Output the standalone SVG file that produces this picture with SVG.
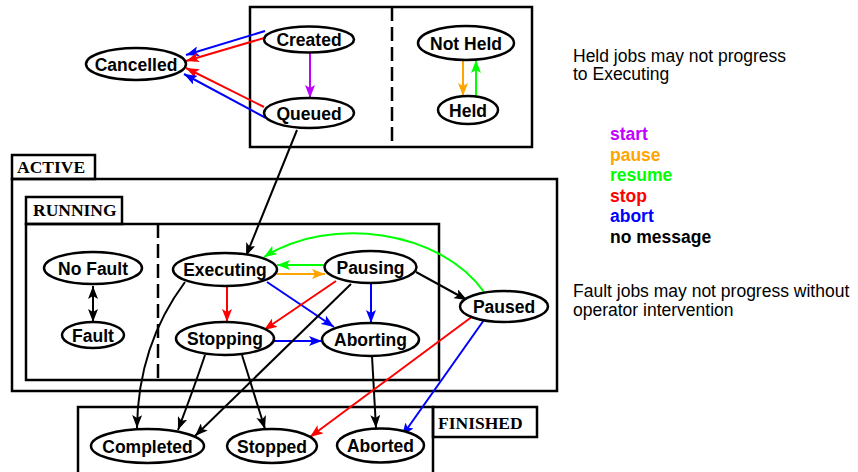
<svg xmlns="http://www.w3.org/2000/svg" width="858" height="472" viewBox="0 0 858 472">
<style>
.box{fill:none;stroke:#000;stroke-width:2.5}
.node ellipse{fill:#fff;stroke:#000;stroke-width:2.5}
.node text{font-family:"Liberation Sans",Arial,sans-serif;font-weight:bold;font-size:17.5px;text-anchor:middle;fill:#000}
.tab{font-family:"Liberation Serif","Times New Roman",serif;font-weight:bold;font-size:17.5px;fill:#000}
.note{font-family:"Liberation Sans",Arial,sans-serif;font-size:17.5px;fill:#000}
.leg{font-family:"Liberation Sans",Arial,sans-serif;font-size:17.5px;font-weight:bold}
.c{fill:none;stroke-width:2}
.k{stroke:#000;marker-end:url(#ak)}
.r{stroke:#f00;marker-end:url(#ar)}
.b{stroke:#00f;marker-end:url(#ab)}
.g{stroke:#0f0;marker-end:url(#ag)}
.o{stroke:#ffa500;marker-end:url(#ao)}
.p{stroke:#c000ff;marker-end:url(#ap)}
</style>
<defs>
<marker id="ak" markerUnits="userSpaceOnUse" markerWidth="14" markerHeight="10" refX="13" refY="5" orient="auto-start-reverse"><path d="M0,0 L13,5 L0,10 L3,5 z" fill="#000"/></marker>
<marker id="ar" markerUnits="userSpaceOnUse" markerWidth="14" markerHeight="10" refX="13" refY="5" orient="auto"><path d="M0,0 L13,5 L0,10 L3,5 z" fill="#f00"/></marker>
<marker id="ab" markerUnits="userSpaceOnUse" markerWidth="14" markerHeight="10" refX="13" refY="5" orient="auto"><path d="M0,0 L13,5 L0,10 L3,5 z" fill="#00f"/></marker>
<marker id="ag" markerUnits="userSpaceOnUse" markerWidth="14" markerHeight="10" refX="13" refY="5" orient="auto"><path d="M0,0 L13,5 L0,10 L3,5 z" fill="#0f0"/></marker>
<marker id="ao" markerUnits="userSpaceOnUse" markerWidth="14" markerHeight="10" refX="13" refY="5" orient="auto"><path d="M0,0 L13,5 L0,10 L3,5 z" fill="#ffa500"/></marker>
<marker id="ap" markerUnits="userSpaceOnUse" markerWidth="14" markerHeight="10" refX="13" refY="5" orient="auto"><path d="M0,0 L13,5 L0,10 L3,5 z" fill="#c000ff"/></marker>
</defs>
<rect width="858" height="472" fill="#fff"/>
<g id="containers">
<rect class="box" x="250" y="7" width="282" height="140"/>
<line x1="392" y1="7" x2="392" y2="147" stroke="#000" stroke-width="2.5" stroke-dasharray="14 6"/>
<rect class="box" x="12" y="155" width="83" height="24"/>
<text class="tab" x="17" y="173">ACTIVE</text>
<rect class="box" x="12" y="179" width="545" height="212"/>
<rect class="box" x="26" y="197" width="96" height="27"/>
<text class="tab" x="33" y="216">RUNNING</text>
<rect class="box" x="26" y="224" width="413" height="156"/>
<line x1="158" y1="224" x2="158" y2="380" stroke="#000" stroke-width="2.5" stroke-dasharray="14 6"/>
<rect class="box" x="78" y="407" width="355" height="80"/>
<rect class="box" x="433" y="407" width="104" height="30"/>
<text class="tab" x="438" y="429">FINISHED</text>
</g>
<g id="connectors">
<line class="c b" x1="265" y1="31" x2="186" y2="55"/>
<line class="c r" x1="264" y1="38" x2="186" y2="61"/>
<line class="c r" x1="264" y1="107" x2="186" y2="68"/>
<line class="c b" x1="266" y1="118" x2="184" y2="74"/>
<line class="c p" x1="310" y1="53" x2="310" y2="98"/>
<line class="c o" x1="463" y1="60" x2="463" y2="96"/>
<line class="c g" x1="476" y1="96" x2="476" y2="60"/>
<line class="c k" x1="297" y1="130" x2="246" y2="256"/>
<line class="c k" x1="93" y1="286" x2="93" y2="322" marker-start="url(#ak)"/>
<line class="c o" x1="277" y1="274" x2="325" y2="274"/>
<line class="c g" x1="326" y1="265" x2="277" y2="265"/>
<path class="c g" d="M484,292 C440,230 330,215 264,257"/>
<line class="c k" x1="416" y1="272" x2="467" y2="300"/>
<line class="c r" x1="227" y1="287" x2="227" y2="322"/>
<line class="c b" x1="267" y1="282" x2="334" y2="327"/>
<line class="c r" x1="336" y1="281" x2="264" y2="330"/>
<line class="c b" x1="371" y1="284" x2="371" y2="323"/>
<line class="c b" x1="274" y1="341" x2="322" y2="341"/>
<line class="c k" x1="351" y1="284" x2="195" y2="436"/>
<path class="c k" d="M185,282 Q138,345 137,428"/>
<path class="c k" d="M205,355 Q195,385 178,430"/>
<line class="c k" x1="242" y1="355" x2="265" y2="429"/>
<path class="c k" d="M372,356 Q374,390 376,428"/>
<line class="c r" x1="473" y1="316" x2="310" y2="437"/>
<line class="c b" x1="484" y1="320" x2="402" y2="436"/>
</g>
<g id="n-cancelled" class="node"><ellipse cx="136" cy="64" rx="50" ry="16"/><text x="136" y="70.5">Cancelled</text></g>
<g id="n-created" class="node"><ellipse cx="309" cy="39.5" rx="45" ry="13"/><text x="309" y="46">Created</text></g>
<g id="n-queued" class="node"><ellipse cx="309" cy="113" rx="45" ry="15"/><text x="309" y="119.5">Queued</text></g>
<g id="n-notheld" class="node"><ellipse cx="466" cy="43" rx="48" ry="17"/><text x="466" y="49.5">Not Held</text></g>
<g id="n-held" class="node"><ellipse cx="468" cy="110" rx="30" ry="14"/><text x="468" y="116.5">Held</text></g>
<g id="n-nofault" class="node"><ellipse cx="93" cy="268" rx="49" ry="16"/><text x="93" y="274.5">No Fault</text></g>
<g id="n-fault" class="node"><ellipse cx="93" cy="335" rx="31" ry="13"/><text x="93" y="341.5">Fault</text></g>
<g id="n-executing" class="node"><ellipse cx="225" cy="269.5" rx="52" ry="16.5"/><text x="225" y="276">Executing</text></g>
<g id="n-pausing" class="node"><ellipse cx="370.5" cy="267" rx="46" ry="16"/><text x="370.5" y="273.5">Pausing</text></g>
<g id="n-stopping" class="node"><ellipse cx="225" cy="338.5" rx="49" ry="16.5"/><text x="225" y="345">Stopping</text></g>
<g id="n-aborting" class="node"><ellipse cx="370.5" cy="339.5" rx="48.5" ry="16.5"/><text x="370.5" y="346">Aborting</text></g>
<g id="n-paused" class="node"><ellipse cx="504" cy="306.5" rx="44" ry="15.5"/><text x="504" y="313">Paused</text></g>
<g id="n-completed" class="node"><ellipse cx="147.5" cy="446" rx="56.5" ry="17"/><text x="147.5" y="452.5">Completed</text></g>
<g id="n-stopped" class="node"><ellipse cx="272" cy="446" rx="45" ry="17"/><text x="272" y="452.5">Stopped</text></g>
<g id="n-aborted" class="node"><ellipse cx="380.5" cy="445.5" rx="43.5" ry="17"/><text x="380.5" y="452">Aborted</text></g>
<g id="notes">
<text class="note" x="573" y="61.5">Held jobs may not progress</text>
<text class="note" x="573" y="80">to Executing</text>
<text class="leg" x="610" y="140" fill="#c000ff">start</text>
<text class="leg" x="610" y="160.5" fill="#ffa500">pause</text>
<text class="leg" x="610" y="181" fill="#00ff00">resume</text>
<text class="leg" x="610" y="201.5" fill="#ff0000">stop</text>
<text class="leg" x="610" y="222" fill="#0000ff">abort</text>
<text class="leg" x="610" y="242.5" fill="#000">no message</text>
<text class="note" x="573" y="297">Fault jobs may not progress without</text>
<text class="note" x="573" y="315.5">operator intervention</text>
</g>
</svg>
